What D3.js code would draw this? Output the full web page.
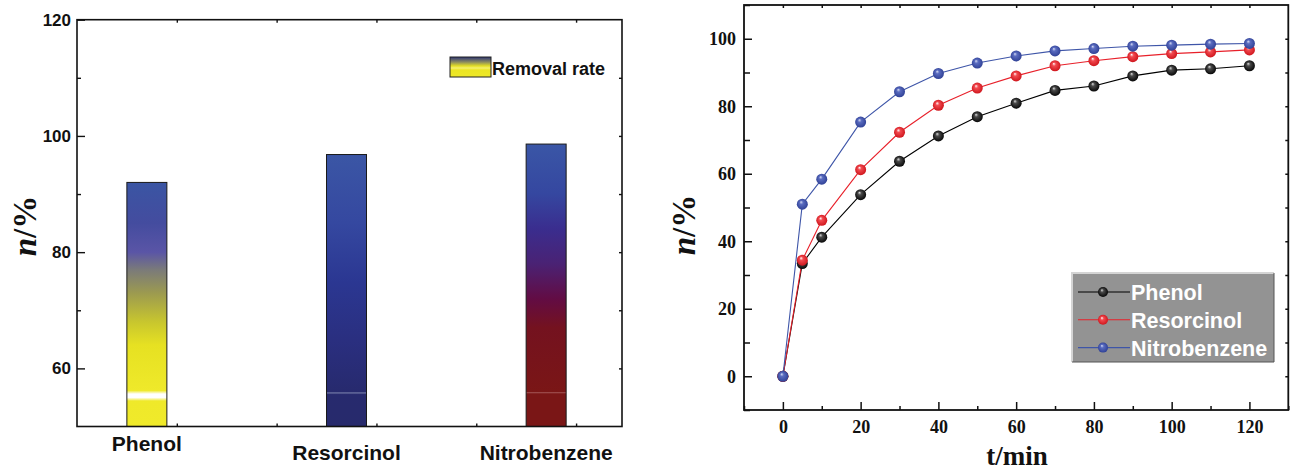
<!DOCTYPE html>
<html>
<head>
<meta charset="utf-8">
<script src="https://cdn.jsdelivr.net/npm/d3@7"></script>
<style>
    body { margin: 0; background: #fff; }
    svg { display: block; }
</style>
</head>
<body>
<div id="chart"></div>
<script>
// bar chart data
const compounds = ["Phenol", "Resorcinol", "Nitrobenzene"];
const removalRate = [92.0, 96.8, 98.6];
const barTicks = [60, 80, 100, 120];

// kinetics data
const times = [0, 5, 10, 20, 30, 40, 50, 60, 70, 80, 90, 100, 110, 120];
const phenol = [0, 33.4, 41.2, 53.8, 63.7, 71.2, 76.9, 80.9, 84.7, 86.0, 89.0, 90.7, 91.1, 92.0];
const resorcinol = [0, 34.4, 46.2, 61.2, 72.3, 80.3, 85.4, 89.0, 92.0, 93.5, 94.7, 95.6, 96.1, 96.7];
const nitrobenzene = [0, 51.0, 58.4, 75.3, 84.3, 89.7, 92.8, 94.9, 96.4, 97.1, 97.8, 98.1, 98.4, 98.6];
const timeTicks = [0, 20, 40, 60, 80, 100, 120];
const rateTicks = [0, 20, 40, 60, 80, 100];

const W = 1291, H = 472;
const SANS = "'Liberation Sans', Arial, sans-serif";
const SERIF = "'Liberation Serif', 'Times New Roman', serif";

const svg = d3.select("#chart").append("svg").attr("width", W).attr("height", H);
const defs = svg.append("defs");

// ---------- left: bar chart ----------
const xL = d3.scaleLinear().domain([0.65, 3.38]).range([77, 622]);
const yL = d3.scaleLinear().domain([50, 120]).range([426.5, 19.7]);
const left = svg.append("g");

// colour stops for each bar, keyed by value on the y axis
const barStops = [
    [[92, "#3a55a3"], [85, "#444c9f"], [80, "#5a55a6"], [77, "#7a7a7a"], [73, "#9c9a50"], [68, "#c8c62e"], [64, "#e6e122"], [56.2, "#efe92a"], [55.6, "#ffffff"], [55.0, "#ffffff"], [54.4, "#efe92a"], [50, "#f0ea2a"]],
    [[96.8, "#3b56a5"], [85, "#3548a0"], [75, "#2b3792"], [65, "#2a2f80"], [56, "#272a6e"], [55.8, "#6a70a0"], [55.5, "#272a6e"], [50, "#272a6c"]],
    [[98.6, "#3a56a6"], [90, "#3547a0"], [84, "#3a2d8e"], [78, "#4a2274"], [72, "#620c44"], [67, "#74121f"], [56, "#7a1616"], [55.9, "#a05050"], [55.6, "#7a1616"], [50, "#7a1616"]]
];
barStops.forEach((stops, i) => {
    const top = removalRate[i];
    const g = defs.append("linearGradient").attr("id", "barGrad" + i)
        .attr("x1", 0).attr("y1", 0).attr("x2", 0).attr("y2", 1);
    stops.forEach(s => {
        g.append("stop").attr("offset", (top - s[0]) / (top - 50)).attr("stop-color", s[1]);
    });
});

const BAR_W = 40;
left.selectAll("rect.bar").data(removalRate).enter().append("rect")
    .attr("class", "bar")
    .attr("x", (d, i) => xL(i + 1) - BAR_W / 2)
    .attr("y", d => yL(d))
    .attr("width", BAR_W)
    .attr("height", d => yL(50) - yL(d))
    .attr("fill", (d, i) => `url(#barGrad${i})`)
    .attr("stroke", "#1a1a1a").attr("stroke-width", 1);

// frame
left.append("rect").attr("x", xL.range()[0]).attr("y", yL.range()[1])
    .attr("width", xL.range()[1] - xL.range()[0]).attr("height", yL.range()[0] - yL.range()[1])
    .attr("fill", "none").attr("stroke", "#111").attr("stroke-width", 1.6);

const yAxisL = left.append("g").attr("transform", `translate(${xL.range()[0]},0)`)
    .call(d3.axisLeft(yL).tickValues(barTicks).tickSize(-8).tickPadding(6));
left.append("g").attr("transform", `translate(${xL.range()[0]},0)`)
    .call(d3.axisLeft(yL).tickValues([70, 90, 110]).tickSize(-4).tickFormat(""));
left.append("g").attr("transform", `translate(${xL.range()[1]},0)`)
    .call(d3.axisRight(yL).tickValues([60, 70, 80, 90, 100, 110]).tickSize(-3).tickFormat(""));
left.append("g").attr("transform", `translate(0,${yL.range()[1]})`)
    .call(d3.axisTop(xL).tickValues([1.15, 1.65, 2.15, 2.65, 3.15]).tickSize(-3).tickFormat(""));
left.append("g").attr("transform", `translate(0,${yL.range()[0]})`)
    .call(d3.axisBottom(xL).tickValues([1.15, 1.65, 2.15, 2.65, 3.15]).tickSize(-3).tickFormat(""));
left.selectAll(".domain").remove();
left.selectAll(".tick line").attr("stroke", "#111").attr("stroke-width", 1.4);
yAxisL.selectAll("text").attr("font-family", SANS).attr("font-weight", "bold")
    .attr("font-size", 17).attr("fill", "#111");

// category labels (Phenol sits a bit higher in the original)
const labelDrop = [0, 9, 9];
left.selectAll("text.cat").data(compounds).enter().append("text")
    .attr("class", "cat")
    .attr("x", (d, i) => xL(i + 1))
    .attr("y", (d, i) => 451 + labelDrop[i])
    .attr("text-anchor", "middle")
    .attr("font-family", SANS).attr("font-weight", "bold").attr("font-size", 21)
    .attr("fill", "#111")
    .text(d => d);

// legend
const lgGrad = defs.append("linearGradient").attr("id", "lgGrad")
    .attr("x1", 0).attr("y1", 0).attr("x2", 0).attr("y2", 1);
[[0, "#2e3576"], [0.25, "#8a8a60"], [0.45, "#e4df24"], [0.55, "#f6f070"], [0.65, "#ebe522"], [1, "#eee828"]]
    .forEach(s => lgGrad.append("stop").attr("offset", s[0]).attr("stop-color", s[1]));
left.append("rect").attr("x", 450).attr("y", 57).attr("width", 41).attr("height", 20)
    .attr("fill", "url(#lgGrad)").attr("stroke", "#222").attr("stroke-width", 1);
left.append("text").attr("x", 492).attr("y", 75)
    .attr("font-family", SANS).attr("font-weight", "bold").attr("font-size", 18)
    .attr("fill", "#111").text("Removal rate");

// y title
left.append("text").attr("transform", "translate(36,226) rotate(-90)")
    .attr("text-anchor", "middle").attr("font-family", SERIF).attr("font-weight", "bold")
    .attr("font-size", 33).attr("fill", "#111")
    .html('<tspan font-style="italic">n</tspan>/%');

// ---------- right: kinetics ----------
const xR = d3.scaleLinear().domain([-10, 130]).range([744, 1288.3]);
const yR = d3.scaleLinear().domain([-10, 110]).range([410, 5]);
const right = svg.append("g");

right.append("rect").attr("x", xR.range()[0]).attr("y", yR.range()[1])
    .attr("width", xR.range()[1] - xR.range()[0]).attr("height", yR.range()[0] - yR.range()[1])
    .attr("fill", "none").attr("stroke", "#111").attr("stroke-width", 1.8);

const minorT = d3.range(-10, 131, 10).filter(v => timeTicks.indexOf(v) < 0);
const minorR = d3.range(-10, 111, 10).filter(v => rateTicks.indexOf(v) < 0);
const xAxisR = right.append("g").attr("transform", `translate(0,${yR.range()[0]})`)
    .call(d3.axisBottom(xR).tickValues(timeTicks).tickSize(-8).tickPadding(10));
right.append("g").attr("transform", `translate(0,${yR.range()[0]})`)
    .call(d3.axisBottom(xR).tickValues(minorT).tickSize(-4).tickFormat(""));
const yAxisR = right.append("g").attr("transform", `translate(${xR.range()[0]},0)`)
    .call(d3.axisLeft(yR).tickValues(rateTicks).tickSize(-8).tickPadding(8));
right.append("g").attr("transform", `translate(${xR.range()[0]},0)`)
    .call(d3.axisLeft(yR).tickValues(minorR).tickSize(-6).tickFormat(""));
right.append("g").attr("transform", `translate(0,${yR.range()[1]})`)
    .call(d3.axisTop(xR).tickValues(d3.range(0, 121, 10)).tickSize(-3).tickFormat(""));
right.append("g").attr("transform", `translate(${xR.range()[1]},0)`)
    .call(d3.axisRight(yR).tickValues(d3.range(0, 101, 10)).tickSize(-3).tickFormat(""));
right.selectAll(".domain").remove();
right.selectAll(".tick line").attr("stroke", "#111").attr("stroke-width", 1.5);
right.selectAll(".tick text").attr("font-family", SERIF).attr("font-weight", "bold")
    .attr("font-size", 18).attr("fill", "#111");

const series = [
    { name: "Phenol", values: phenol, line: "#000000", c: ["#e0e0e0", "#4a4a4a", "#000000"] },
    { name: "Resorcinol", values: resorcinol, line: "#e8202a", c: ["#ffffff", "#f24a50", "#cc1118"] },
    { name: "Nitrobenzene", values: nitrobenzene, line: "#3e55a8", c: ["#d8ddf4", "#5a6cc0", "#2c3d92"] }
];
series.forEach((s, i) => {
    const rg = defs.append("radialGradient").attr("id", "ball" + i)
        .attr("cx", 0.5).attr("cy", 0.5).attr("r", 0.55).attr("fx", 0.38).attr("fy", 0.3);
    rg.append("stop").attr("offset", 0).attr("stop-color", s.c[0]);
    rg.append("stop").attr("offset", 0.3).attr("stop-color", s.c[1]);
    rg.append("stop").attr("offset", 1).attr("stop-color", s.c[2]);
});

const line = d3.line().x(d => xR(d[0])).y(d => yR(d[1]));
series.forEach((s, i) => {
    const pts = times.map((t, k) => [t, s.values[k]]);
    right.append("path").attr("d", line(pts)).attr("fill", "none")
        .attr("stroke", s.line).attr("stroke-width", 1.1);
});
series.forEach((s, i) => {
    const pts = times.map((t, k) => [t, s.values[k]]);
    right.selectAll(null).data(pts).enter().append("circle")
        .attr("cx", d => xR(d[0])).attr("cy", d => yR(d[1]))
        .attr("r", 5.5).attr("fill", `url(#ball${i})`);
});

// legend box
const lg = right.append("g").attr("transform", "translate(1072,273)");
lg.append("rect").attr("width", 202).attr("height", 89).attr("fill", "#939393");
lg.append("path").attr("d", "M0,89 V0 H202").attr("fill", "none").attr("stroke", "#d4d4d4").attr("stroke-width", 2);
lg.append("path").attr("d", "M202,0 V89 H0").attr("fill", "none").attr("stroke", "#555").attr("stroke-width", 1);
series.forEach((s, i) => {
    const y = 19 + i * 27.8;
    lg.append("line").attr("x1", 6).attr("x2", 58).attr("y1", y).attr("y2", y)
        .attr("stroke", s.line).attr("stroke-width", 1.1);
    lg.append("circle").attr("cx", 31).attr("cy", y).attr("r", 5).attr("fill", `url(#ball${i})`);
    lg.append("text").attr("x", 59).attr("y", y + 8)
        .attr("font-family", SANS).attr("font-weight", "bold").attr("font-size", 21.5)
        .attr("fill", "#ffffff").text(s.name);
});

// axis titles
right.append("text").attr("transform", "translate(695,225) rotate(-90)")
    .attr("text-anchor", "middle").attr("font-family", SERIF).attr("font-weight", "bold")
    .attr("font-size", 33).attr("fill", "#111")
    .html('<tspan font-style="italic">n</tspan>/%');
right.append("text").attr("x", 1017).attr("y", 465)
    .attr("text-anchor", "middle").attr("font-family", SERIF).attr("font-weight", "bold")
    .attr("font-size", 27).attr("fill", "#111").text("t/min");
</script>
</body>
</html>
